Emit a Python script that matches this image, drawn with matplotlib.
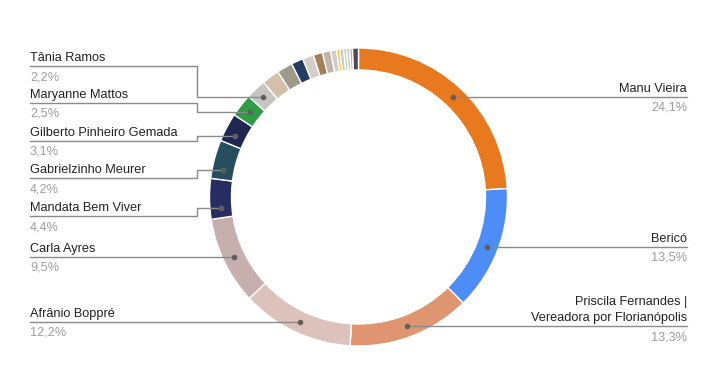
import matplotlib
matplotlib.use("Agg")
import matplotlib.pyplot as plt
import numpy as np

plt.rcParams['font.family'] = ['Liberation Sans', 'DejaVu Sans']

W, H = 726, 390

# fatias com rótulo, sentido horário a partir do topo
nomes = ['Manu Vieira', 'Bericó', 'Priscila Fernandes |\nVereadora por Florianópolis',
         'Afrânio Boppré', 'Carla Ayres', 'Mandata Bem Viver', 'Gabrielzinho Meurer',
         'Gilberto Pinheiro Gemada', 'Maryanne Mattos', 'Tânia Ramos']
valores = [24.1, 13.5, 13.3, 12.2, 9.5, 4.4, 4.2, 3.1, 2.5, 2.2]
cores = ['#E8791E', '#4E8DF5', '#DF9670', '#DDC2BC', '#C6AFAC',
         '#262D62', '#254E5E', '#1F2652', '#2D9C45', '#C8C5C0']

# fatias pequenas sem rótulo (fim do anel, antes de voltar ao topo)
outros_valores = [1.9, 1.7, 1.3, 1.2, 1.0, 0.9, 0.65, 0.32, 0.43, 0.32, 0.34, 0.3, 0.64]
outros_cores = ['#D4BFA8', '#9D9A8B', '#253C63', '#D3CFC8', '#A57F58', '#C3B4A9', '#D0CCC8',
                '#F5C41F', '#C9C9CC', '#B7D0A7', '#C9C9C9', '#BFB1A2', '#4A4957']

# layout dos rótulos: lado, y da linha (None = altura do ponto), posição do ponto na fatia
lado = ['d', 'd', 'd', 'e', 'e', 'e', 'e', 'e', 'e', 'e']
linha_y = [None, None, None, None, None, 216, 178, 141, 103, 66]
frac_ponto = [0.5, 0.5, 0.5, 0.5, 0.5, 0.25, 0.27, 0.35, 0.5, 0.5]

CX, CY = 358.5, 197      # centro em pixels (y para baixo)
R, LARG = 149, 22        # raio externo e espessura do anel
R_PONTO = R - LARG / 2
X_ESQ, X_DIR, X_COTOVELO = 30, 687, 197
COR_LINHA = '#8a8a8a'
FS = 9.2

fig = plt.figure(figsize=(W / 100, H / 100), dpi=100)
ax = fig.add_axes([0, 0, 1, 1])

todos_valores = valores + outros_valores
total = sum(todos_valores)

# eixo y invertido: startangle=-90 e counterclock=True dão topo + sentido horário na tela
wedges, _ = ax.pie(todos_valores, colors=cores + outros_cores, center=(CX, CY), radius=R,
                   startangle=-90, counterclock=True,
                   wedgeprops=dict(width=LARG, edgecolor='white', linewidth=1))
ax.set_xlim(0, W)
ax.set_ylim(H, 0)
ax.set_aspect('auto')
ax.axis('off')

for i, nome in enumerate(nomes):
    w = wedges[i]
    ang = np.deg2rad(w.theta1 + frac_ponto[i] * (w.theta2 - w.theta1))
    px = CX + R_PONTO * np.cos(ang)
    py = CY + R_PONTO * np.sin(ang)
    ly = py if linha_y[i] is None else linha_y[i]
    pct = f"{valores[i] / total * 100:.1f}%".replace('.', ',')

    if lado[i] == 'd':
        ax.plot([px, X_DIR], [py, py], color=COR_LINHA, lw=1, zorder=3)
        tx, ha = X_DIR, 'right'
    else:
        if linha_y[i] is None:
            ax.plot([X_ESQ, px], [py, py], color=COR_LINHA, lw=1, zorder=3)
        else:
            ax.plot([X_ESQ, X_COTOVELO, X_COTOVELO, px], [ly, ly, py, py],
                    color=COR_LINHA, lw=1, zorder=3)
        tx, ha = X_ESQ, 'left'
    ax.plot(px, py, 'o', ms=3, color='#5f5f5f', zorder=4)

    linhas = nome.split('\n')
    for k, txt in enumerate(reversed(linhas)):
        ax.text(tx, ly - 5 - 16 * k, txt, ha=ha, va='baseline', fontsize=FS, color='#222222')
    ax.text(tx, ly + 14, pct, ha=ha, va='baseline', fontsize=FS, color='#9e9e9e')

fig.savefig('out.png', dpi=100, facecolor='white')
